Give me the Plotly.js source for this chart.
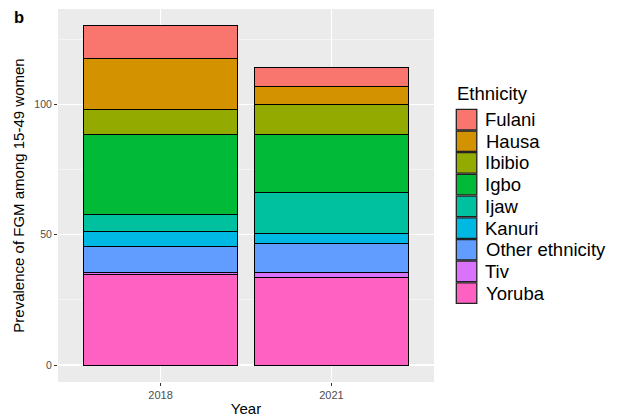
<!DOCTYPE html>
<html>
<head>
<meta charset="utf-8">
<script src="https://cdn.plot.ly/plotly-3.0.1.min.js"></script>
<style>html,body{margin:0;padding:0;background:#fff;}#chart{width:619px;height:419px;}</style>
</head>
<body>
<div id="chart"></div>
<script>
const years = ['2018', '2021'];
const ethnicities = ['Fulani', 'Hausa', 'Ibibio', 'Igbo', 'Ijaw', 'Kanuri', 'Other ethnicity', 'Tiv', 'Yoruba'];
const colors = ['#F8766D', '#D39200', '#93AA00', '#00BA38', '#00C19F', '#00B9E3', '#619CFF', '#DB72FB', '#FF61C3'];

const fulani = [12.5, 7.4];
const hausa = [19.7, 6.8];
const ibibio = [9.3, 11.3];
const igbo = [30.6, 22.5];
const ijaw = [6.8, 15.6];
const kanuri = [5.8, 3.8];
const otherEthnicity = [9.7, 11.0];
const tiv = [0.7, 1.9];
const yoruba = [34.9, 33.7];

const yTicks = [0, 50, 100];

const series = [fulani, hausa, ibibio, igbo, ijaw, kanuri, otherEthnicity, tiv, yoruba];

// stacking: ggplot puts first level on top, so add traces bottom-up
const traces = [];
for (let i = ethnicities.length - 1; i >= 0; i--) {
  traces.push({
    type: 'bar',
    x: years,
    y: series[i],
    name: ethnicities[i],
    marker: {color: colors[i], line: {color: '#000000', width: 1}},
    showlegend: false,
    hoverinfo: 'x+y+name'
  });
}

// panel geometry in pixels (for legend placement)
const W = 619, H = 419;
const mL = 58, mR = 185, mT = 9, mB = 37;
const pw = W - mL - mR, ph = H - mT - mB;
const px = v => (v - mL) / pw;
const py = v => (H - mB - v) / ph;

const FONT = 'Liberation Sans, Arial';
const shapes = [];
const annotations = [];

annotations.push({
  xref: 'paper', yref: 'paper', x: px(455), y: py(93.5), xanchor: 'left', yanchor: 'middle',
  text: 'Ethnicity', showarrow: false, font: {family: FONT, size: 18.5, color: '#000'}
});
const keyTop = 109.3, pitch = 21.7, keySize = 20.5;
ethnicities.forEach((e, i) => {
  const y0 = keyTop + i * pitch;
  shapes.push({
    type: 'rect', xref: 'paper', yref: 'paper',
    x0: px(456.3), x1: px(456.3 + keySize), y0: py(y0), y1: py(y0 + keySize),
    fillcolor: colors[i], line: {color: '#222', width: 1.3}
  });
  annotations.push({
    xref: 'paper', yref: 'paper', x: px(483.5), y: py(y0 + keySize / 2), xanchor: 'left', yanchor: 'middle',
    text: e, showarrow: false, font: {family: FONT, size: 18.5, color: '#000'}
  });
});

annotations.push({
  xref: 'paper', yref: 'paper', x: px(11.5), y: py(16.5), xanchor: 'left', yanchor: 'middle',
  text: '<b>b</b>', showarrow: false, font: {family: FONT, size: 16.5, color: '#000'}
});

const layout = {
  width: W, height: H,
  margin: {l: mL, r: mR, t: mT, b: mB, pad: 0},
  paper_bgcolor: '#ffffff',
  plot_bgcolor: '#EBEBEB',
  barmode: 'stack',
  bargap: 0.1,
  showlegend: false,
  font: {family: FONT, color: '#000'},
  xaxis: {
    type: 'category',
    range: [-0.6, 1.6],
    showgrid: true, gridcolor: '#ffffff', gridwidth: 1.1,
    zeroline: false, showline: false,
    ticks: 'outside', ticklen: 3, tickcolor: '#333333', tickwidth: 1,
    tickfont: {family: FONT, size: 11, color: '#4D4D4D'},
    title: {text: 'Year', font: {family: FONT, size: 15, color: '#000'}, standoff: 3}
  },
  yaxis: {
    range: [-6.5, 136.5],
    tickvals: yTicks,
    ticktext: yTicks.map(String),
    showgrid: true, gridcolor: '#ffffff', gridwidth: 1.1,
    minor: {dtick: 25, tick0: 0, showgrid: true, gridcolor: '#ffffff', gridwidth: 0.5, ticks: ''},
    zeroline: false, showline: false,
    ticks: 'outside', ticklen: 3, tickcolor: '#333333', tickwidth: 1,
    tickfont: {family: FONT, size: 10.5, color: '#4D4D4D'},
    title: {text: 'Prevalence of FGM among 15-49 women', font: {family: FONT, size: 15, color: '#000'}, standoff: 6}
  },
  shapes: shapes,
  annotations: annotations
};

Plotly.newPlot('chart', traces, layout, {displayModeBar: false, staticPlot: true});
</script>
</body>
</html>
